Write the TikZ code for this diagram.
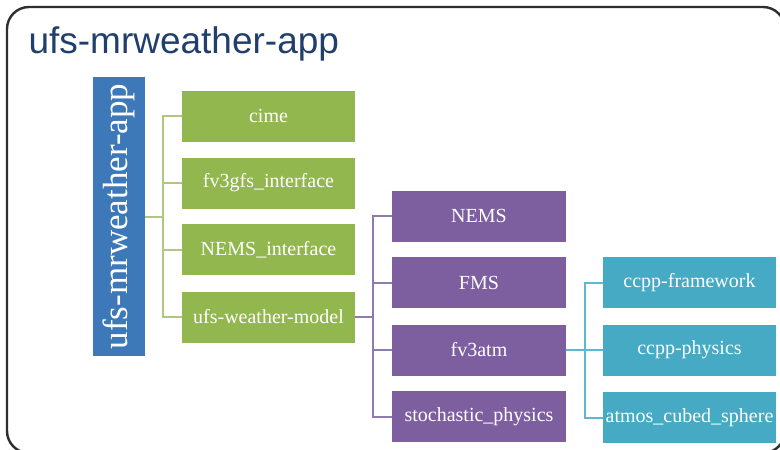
\documentclass[tikz,border=0pt]{standalone}
\usepackage{fontspec}
\setmainfont{Liberation Serif}
\newfontfamily\titlefont{Liberation Sans}
\usetikzlibrary{calc}
\definecolor{appblue}{HTML}{3D78B9}
\definecolor{leafgreen}{HTML}{93B74F}
\definecolor{modelpurple}{HTML}{7D5FA0}
\definecolor{physteal}{HTML}{46AAC5}
\definecolor{linegreen}{HTML}{AFC77F}
\definecolor{linepurple}{HTML}{8F7BAE}
\definecolor{lineteal}{HTML}{5EB8D1}
\definecolor{titleink}{HTML}{213F6C}
\definecolor{frameink}{HTML}{2E2E2E}

\begin{document}
\begin{tikzpicture}[
  x=1pt, y=-1pt,
  box/.style={minimum width=173pt, minimum height=51pt, inner sep=0pt,
    text=white, font=\fontsize{20}{23}\selectfont},
  toplevel/.style={box, fill=leafgreen},
  model/.style={box, fill=modelpurple, minimum width=174pt},
  physics/.style={box, fill=physteal},
  appbox/.style={fill=appblue, minimum width=52pt, minimum height=279pt,
    inner sep=0pt, text=white, font=\fontsize{35}{40}\selectfont},
  branch/.style={line width=2pt},
  frame/.style={draw=frameink, line width=2.4pt, rounded corners=22pt}
]
\useasboundingbox (0,0) rectangle (780,450);
\clip (0,0) rectangle (780,450);
\draw[frame] (7,7) rectangle (785,453);

\node[anchor=base west, text=titleink, font=\titlefont\fontsize{37}{42}\selectfont]
  (title) at (25,53) {ufs-mrweather-app};

\node[appbox] (app) at (119,216.5) {\rotatebox{90}{ufs-mrweather-app}};

% first level, green
\node[toplevel] (cime) at (268.5,116) {cime};
\node[toplevel] (fv3gfs) at (268.5,183) {fv3gfs\_interface};
\node[toplevel] (nemsif) at (268.5,249.5) {NEMS\_interface};
\node[toplevel] (ufswm) at (268.5,317) {ufs-weather-model};

% ufs-weather-model components, purple
\node[model] (nems) at (479,216) {NEMS};
\node[model] (fms) at (479,282.5) {FMS};
\node[model] (fv3atm) at (479,350) {fv3atm};
\node[model] (stoch) at (479,416.5) {stochastic\_physics};

% fv3atm components, teal
\node[physics] (ccppfw) at (689.5,282.5) {ccpp-framework};
\node[physics] (ccppphys) at (689.5,350) {ccpp-physics};
\node[physics] (atmos) at (689.5,417.5) {atmos\_cubed\_sphere};

% one trunk per parent, a square elbow to every child
\foreach \base/\gap/\kids/\tone in {
  app/18/{cime,fv3gfs,nemsif,ufswm}/linegreen,
  ufswm/18/{nems,fms,fv3atm,stoch}/linepurple,
  fv3atm/19/{ccppfw,ccppphys,atmos}/lineteal} {
  \coordinate (trunk-\base) at ($(\base.east)+(\gap,0)$);
  \draw[branch, \tone] (\base.east) -- (trunk-\base);
  \foreach \child in \kids {
    \draw[branch, \tone] (\child.west) -| (trunk-\base);
  }
}
\end{tikzpicture}
\end{document}
